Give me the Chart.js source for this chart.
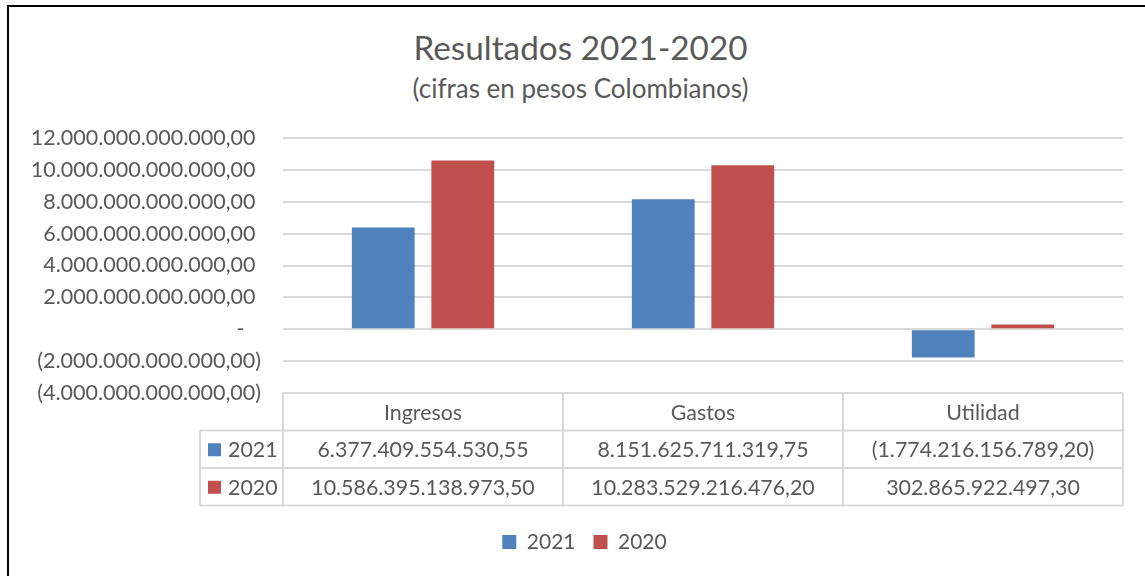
<!DOCTYPE html>
<html>
<head>
<meta charset="utf-8">
<script src="https://cdn.jsdelivr.net/npm/chart.js@4.4.1/dist/chart.umd.min.js"></script>
<style>
    body { margin: 0; background: #fff; overflow: hidden; }
    #wrap { position: relative; width: 1145px; height: 576px; }
    #frame { position: absolute; left: 7px; top: 5px; width: 1200px; height: 700px;
             border-left: 2px solid #000; border-top: 2px solid #000; }
    .title { position: absolute; left: 0; width: 1161px; text-align: center;
             font-family: Lato, sans-serif; color: #595959; }
    #t1 { top: 27px; font-size: 33.3px; }
    #t2 { top: 72px; font-size: 26px; }
    canvas { position: absolute; left: 0; top: 0; }
</style>
</head>
<body>
<div id="wrap">
    <div id="frame"></div>
    <div class="title" id="t1">Resultados 2021-2020</div>
    <div class="title" id="t2">(cifras en pesos Colombianos)</div>
    <canvas id="chart" width="1145" height="576"></canvas>
</div>
<script>
// Categories and series (pesos colombianos)
const categories = ['Ingresos', 'Gastos', 'Utilidad'];
const seriesNames = ['2021', '2020'];
const values2021 = [6377409554530.55, 8151625711319.75, -1774216156789.20];
const values2020 = [10586395138973.50, 10283529216476.20, 302865922497.30];
const seriesColors = ['#4F81BD', '#C0504D'];

const textColor = '#595959';
const gridColor = '#D9D9D9';
const fontFamily = 'Lato, sans-serif';

// Spanish accounting style: 1.234,56 and (1.234,56) for negatives
function formatPesos(v) {
    const parts = Math.abs(v).toFixed(2).split('.');
    const intPart = parts[0].replace(/\B(?=(\d{3})+(?!\d))/g, '.');
    const s = intPart + ',' + parts[1];
    return v < 0 ? '(' + s + ')' : s;
}

function axisLabel(v) {
    if (v === 0) return '-   ';
    return v < 0 ? formatPesos(v) : formatPesos(v) + ' ';
}

// Draws the Excel style data table under the plot area
const dataTablePlugin = {
    id: 'dataTable',
    afterLayout(chart) {
        // legend in the original is centred on the whole frame, not on the canvas
        chart.legend.left += 23;
        chart.legend.right += 23;
    },
    afterDraw(chart) {
        const ctx = chart.ctx;
        const xs = chart.scales.x;
        const area = chart.chartArea;
        const half = (xs.getPixelForValue(1) - xs.getPixelForValue(0)) / 2;
        const top = area.bottom;
        const rowH = 37.5;
        const labelLeft = area.left - 83;
        const right = area.right;
        const rows = [values2021, values2020];

        ctx.save();
        ctx.strokeStyle = gridColor;
        ctx.lineWidth = 2;
        ctx.beginPath();
        // horizontal lines
        ctx.moveTo(area.left, top); ctx.lineTo(right, top);
        for (let r = 1; r <= 3; r++) {
            ctx.moveTo(labelLeft, top + r * rowH); ctx.lineTo(right, top + r * rowH);
        }
        // vertical lines
        ctx.moveTo(labelLeft, top + rowH); ctx.lineTo(labelLeft, top + 3 * rowH);
        categories.forEach((c, i) => {
            const x = xs.getPixelForValue(i) - half;
            ctx.moveTo(x, top); ctx.lineTo(x, top + 3 * rowH);
        });
        ctx.moveTo(right, top); ctx.lineTo(right, top + 3 * rowH);
        ctx.stroke();

        ctx.font = '21.4px ' + fontFamily;
        ctx.fillStyle = textColor;
        ctx.textAlign = 'center';
        ctx.textBaseline = 'middle';
        categories.forEach((c, i) => {
            ctx.fillText(c, xs.getPixelForValue(i), top + rowH / 2 + 1);
        });
        rows.forEach((vals, r) => {
            const y = top + (r + 1.5) * rowH + 1;
            vals.forEach((v, i) => {
                ctx.fillStyle = textColor;
                ctx.textAlign = 'center';
                ctx.fillText(formatPesos(v), xs.getPixelForValue(i), y);
            });
            ctx.fillStyle = seriesColors[r];
            ctx.fillRect(labelLeft + 8, y - 7, 13, 13);
            ctx.fillStyle = textColor;
            ctx.textAlign = 'left';
            ctx.fillText(seriesNames[r], labelLeft + 28, y);
        });
        ctx.restore();
    }
};

new Chart(document.getElementById('chart'), {
    type: 'bar',
    data: {
        labels: categories,
        datasets: [
            { label: seriesNames[0], data: values2021, backgroundColor: seriesColors[0] },
            { label: seriesNames[1], data: values2020, backgroundColor: seriesColors[1] }
        ]
    },
    options: {
        responsive: false,
        animation: false,
        categoryPercentage: 0.568,
        barPercentage: 0.79,
        layout: {
            padding: { left: 0, right: 22, top: 138, bottom: 13.5 }
        },
        scales: {
            x: {
                grid: { display: false },
                border: { display: false },
                ticks: { display: false },
                afterFit: function(scale) { scale.height = 120.5; }
            },
            y: {
                min: -4000000000000,
                max: 12000000000000,
                grid: { color: gridColor, lineWidth: 2, drawTicks: false },
                border: { display: false },
                ticks: {
                    stepSize: 2000000000000,
                    padding: 22,
                    color: textColor,
                    font: { family: fontFamily, size: 21.5 },
                    callback: function(value) { return axisLabel(value); }
                },
                afterFit: function(scale) { scale.width = 283; }
            }
        },
        plugins: {
            legend: {
                position: 'bottom',
                labels: {
                    boxWidth: 14,
                    boxHeight: 14,
                    padding: 18,
                    color: textColor,
                    font: { family: fontFamily, size: 21 }
                }
            },
            title: { display: false },
            tooltip: { enabled: false }
        }
    },
    plugins: [dataTablePlugin]
});
</script>
</body>
</html>
